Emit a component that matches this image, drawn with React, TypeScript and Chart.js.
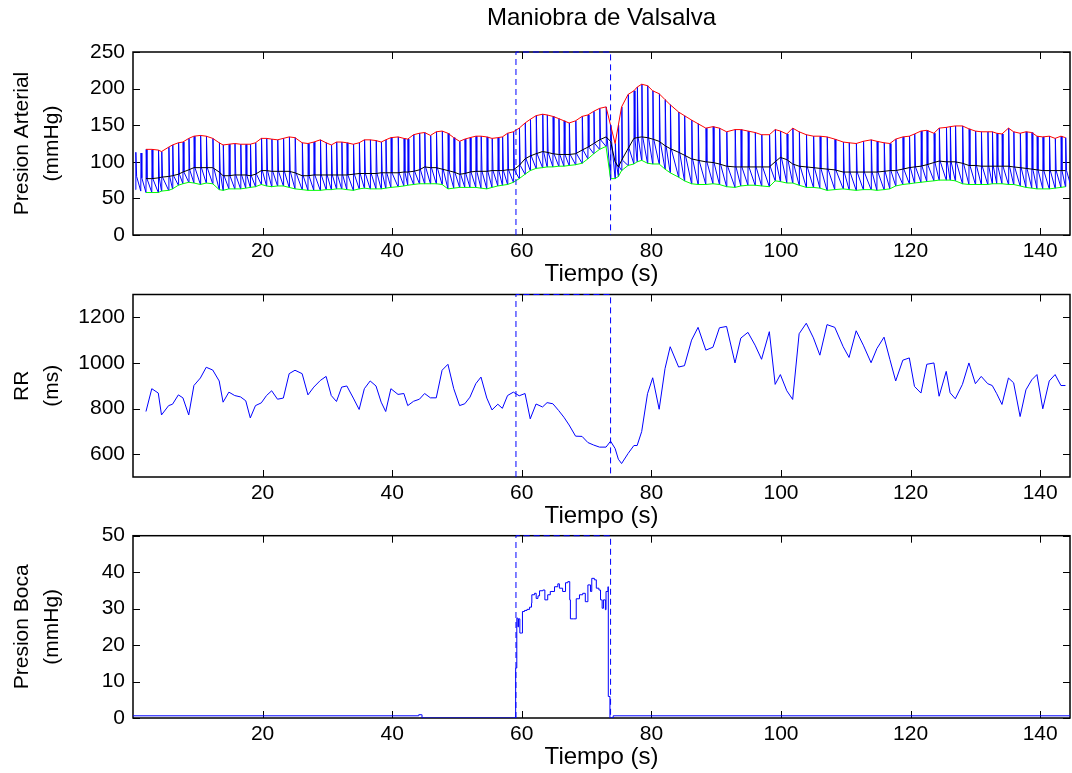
import React, { useEffect, useRef } from "react";
import { Chart, registerables } from "chart.js";

Chart.register(...registerables);

const FONT = "'Liberation Sans', Arial, Helvetica, sans-serif";

// ---------- axis / tick data ----------
const timeMin = 0;
const timeMax = 144.6;
const timeTicks = [20, 40, 60, 80, 100, 120, 140];
const bpTicks = [0, 50, 100, 150, 200, 250];
const rrTicks = [600, 800, 1000, 1200];
const mouthTicks = [0, 10, 20, 30, 40, 50];
const maneuverStart = 59.1;
const maneuverEnd = 73.7;

// ---------- beat-to-beat data (s) ----------
const beatTimes = [0.4, 1.2,
  2.0, 2.9, 3.9, 4.4, 5.5, 6.1, 7.0, 7.7, 8.6, 9.4,
  10.4, 11.3, 12.3, 13.3, 13.9, 14.8, 15.7, 16.6, 17.4, 18.1,
  18.9, 19.8, 20.6, 21.4, 22.3, 23.2, 24.1, 25.0, 26.1, 27.0,
  27.9, 28.9, 29.8, 30.6, 31.4, 32.2, 33.0, 34.0, 34.9, 35.7,
  36.6, 37.5, 38.3, 39.0, 39.8, 40.9, 41.8, 42.4, 43.3, 44.2,
  45.0, 45.9, 46.8, 47.7, 48.6, 49.5, 50.4, 51.2, 52.0, 52.9,
  53.7, 54.6, 55.4, 56.3, 57.0, 57.8, 58.7, 59.6, 60.5, 61.3,
  62.2, 63.2, 63.9, 64.8, 65.7, 66.5, 67.3, 68.3, 69.3, 70.2,
  71.1, 72.0, 73.0, 73.7, 74.4, 74.9, 75.4, 76.4, 77.3, 77.8,
  78.5, 79.4, 80.2, 81.2, 82.1, 82.9, 84.2, 85.1, 86.2, 87.2,
  88.4, 89.5, 90.5, 91.6, 92.9, 93.8, 94.9, 96.0, 97.0, 98.2,
  99.1, 99.9, 100.9, 101.8, 102.8, 103.9, 105.0, 106.0, 107.1, 108.3,
  109.6, 110.5, 111.6, 112.7, 113.9, 114.8, 115.9, 116.8, 117.7, 118.8,
  119.8, 120.6, 121.6, 122.5, 123.6, 124.4, 125.5, 126.1, 126.9, 128.0,
  129.0, 130.0, 130.9, 131.9, 132.6, 133.3, 134.1, 135.1, 135.9, 136.9,
  137.8, 138.7, 139.5, 140.4, 141.4, 142.3, 143.2, 143.9,
  144.8];

// systolic pressure per beat (mmHg)
const systolic = [113, 112,
  117, 117, 116, 114, 120, 123, 126, 127, 132, 135,
  136, 135, 132, 126, 123, 124, 125, 124, 124, 124,
  126, 132, 132, 131, 130, 132, 134, 133, 126, 125,
  127, 130, 126, 123, 127, 127, 126, 124, 126, 130,
  130, 129, 127, 130, 133, 134, 132, 131, 137, 139,
  140, 136, 141, 142, 139, 133, 128, 131, 133, 135,
  135, 134, 132, 133, 134, 139, 141, 146, 153, 158,
  163, 165, 164, 162, 159, 156, 153, 156, 162, 164,
  169, 173, 175, 150, 125, 150, 175, 192, 197, 202,
  206, 204, 197, 193, 185, 178, 168, 163, 157, 152,
  146, 148, 146, 141, 144, 144, 142, 140, 137, 137,
  144, 142, 138, 146, 141, 137, 135, 135, 134, 131,
  127, 126, 125, 128, 130, 128, 126, 125, 131, 134,
  135, 138, 142, 143, 139, 146, 147, 148, 149, 149,
  145, 142, 141, 141, 141, 139, 138, 146, 141, 139,
  141, 140, 135, 134, 135, 132, 135, 133,
  134];

// diastolic pressure per beat (mmHg)
const diastolic = [62, 60,
  58, 58, 58, 60, 61, 63, 68, 70, 72, 71,
  69, 71, 70, 62, 61, 63, 63, 63, 64, 65,
  66, 69, 67, 66, 67, 67, 65, 63, 62, 61,
  61, 61, 62, 62, 63, 63, 62, 61, 63, 64,
  63, 63, 63, 64, 65, 66, 67, 68, 69, 70,
  70, 70, 70, 69, 63, 64, 65, 65, 65, 65,
  64, 63, 65, 67, 68, 69, 72, 77, 83, 88,
  91, 92, 93, 93, 94, 94, 95, 96, 98, 104,
  111, 117, 121, 77, 77, 80, 88, 95, 97, 100,
  102, 98, 97, 97, 90, 85, 79, 74, 70, 69,
  69, 70, 69, 66, 65, 67, 68, 68, 67, 66,
  74, 73, 71, 71, 68, 65, 65, 64, 61, 62,
  63, 62, 61, 62, 62, 61, 62, 63, 67, 69,
  70, 71, 72, 73, 74, 75, 75, 75, 74, 70,
  69, 69, 69, 69, 70, 70, 70, 69, 69, 67,
  65, 64, 63, 63, 63, 64, 65, 66,
  65];

// mean pressure per beat (mmHg)
const meanPressure = [80, 78,
  77, 77, 78, 79, 80, 81, 83, 86, 89, 92,
  92, 92, 92, 86, 81, 81, 82, 82, 82, 81,
  83, 88, 88, 87, 87, 87, 87, 85, 81, 81,
  82, 82, 82, 82, 82, 82, 82, 83, 84, 84,
  84, 84, 85, 85, 85, 85, 86, 86, 87, 89,
  93, 92, 92, 90, 88, 86, 83, 84, 86, 87,
  87, 87, 88, 88, 88, 89, 89, 95, 104, 108,
  111, 114, 113, 111, 110, 110, 110, 111, 116, 120,
  125, 130, 134, 128, 100, 93, 102, 118, 132, 133,
  134, 133, 131, 128, 122, 118, 113, 109, 104, 102,
  100, 99, 97, 94, 93, 93, 93, 93, 93, 93,
  100, 106, 103, 97, 94, 93, 92, 91, 90, 89,
  86, 86, 86, 86, 86, 86, 87, 88, 88, 90,
  92, 93, 94, 96, 99, 101, 100, 100, 100, 98,
  95, 95, 94, 94, 94, 94, 94, 94, 93, 92,
  91, 90, 89, 88, 88, 88, 88, 88,
  88];

// RR interval per beat (ms), for beats beatTimes[2] .. beatTimes[159]
const rrIntervals = [
  787, 887, 868, 772, 813, 819, 860, 847, 772, 901,
  934, 981, 969, 921, 828, 872, 857, 851, 834, 759,
  813, 825, 857, 878, 841, 846, 953, 968, 953, 860,
  894, 923, 941, 857, 831, 894, 899, 846, 796, 887,
  921, 899, 828, 787, 887, 862, 866, 813, 832, 841,
  866, 847, 847, 968, 994, 887, 813, 821, 850, 909,
  938, 846, 794, 819, 801, 857, 872, 856, 866, 755,
  820, 807, 826, 821, 791, 762, 728, 679, 678, 651,
  640, 631, 631, 657, 625, 578, 559, 603, 638, 638,
  699, 865, 935, 797, 975, 1071, 982, 988, 1100, 1156,
  1056, 1069, 1154, 1160, 1000, 1109, 1134, 1078, 1016, 1137,
  906, 949, 878, 840, 1128, 1174, 1110, 1034, 1168, 1156,
  1071, 1024, 1141, 1078, 1001, 1063, 1113, 1016, 921, 1012,
  1022, 897, 868, 994, 1000, 854, 963, 869, 843, 906,
  1000, 909, 941, 909, 901, 865, 818, 934, 913, 765,
  882, 926, 949, 799, 921, 949, 901, 901];

// mouth pressure (mmHg), sample-and-hold
const mouthTimes = [0, 44.0, 44.1, 44.5, 44.6, 59.03, 59.05, 59.2, 59.23, 59.4,
  59.5, 59.7, 60.0, 60.1, 60.42, 60.8, 61.2, 61.5, 61.55, 61.96,
  62.22, 62.5, 62.74, 63.25, 63.56, 64.0, 64.4, 65.05, 65.56, 65.8,
  66.3, 66.75, 67.1, 67.4, 67.5, 68.0, 68.4, 68.9, 69.4, 69.8,
  70.2, 70.6, 70.8, 71.2, 71.5, 71.9, 72.15, 72.4, 72.6, 72.9,
  73.0, 73.3, 73.35, 73.45, 73.6, 74.05, 74.1, 144.6];
const mouthValues = [0.6, 0.6, 0.9, 0.9, 0, 0, 13.7, 13.7, 27.4, 25,
  27.2, 23.3, 23.3, 29.2, 29.5, 29.8, 30.4, 31.5, 33.8, 34.2,
  32.8, 33.5, 34.9, 35.1, 32.4, 33.8, 34.7, 36.0, 36.8, 35.6,
  34.7, 37.1, 37.4, 32.4, 27.2, 27.2, 32.7, 33.8, 34.2, 31.9,
  36.5, 34.7, 38.3, 37.9, 35.6, 35.1, 32.4, 30.1, 32.4, 29.7,
  34.7, 36.0, 5.9, 5.9, 0, 0, 0.6, 0.6];

// waveform shape (s after each beat onset)
const upstroke = 0.04;
const knee = 0.12;

// ---------- helpers ----------
const BLUE = "#0000ff";
const envFirst = 2;
const envLast = beatTimes.length - 1; // exclusive

function series(xs: number[], ys: number[], from = 0, to = xs.length) {
  const out: { x: number; y: number }[] = [];
  for (let i = from; i < to && i < ys.length; i++) out.push({ x: xs[i], y: ys[i] });
  return out;
}

function pressureWave() {
  const out: { x: number; y: number }[] = [];
  for (let i = 0; i < beatTimes.length; i++) {
    out.push({ x: beatTimes[i], y: diastolic[i] });
    out.push({ x: beatTimes[i] + upstroke, y: systolic[i] });
    out.push({ x: beatTimes[i] + upstroke + knee, y: meanPressure[i] });
  }
  return out;
}

function maneuverBox(lo: number, hi: number) {
  return {
    data: [
      { x: maneuverStart, y: lo },
      { x: maneuverStart, y: hi },
      { x: maneuverEnd, y: hi },
      { x: maneuverEnd, y: lo },
    ],
    borderColor: BLUE,
    borderWidth: 1,
    borderDash: [6, 4],
    pointRadius: 0,
    clip: 4,
  };
}

const framePlugin = {
  id: "matlabFrame",
  beforeDatasetsDraw(chart: any) {
    const { ctx, chartArea } = chart;
    const { left, right, top, bottom } = chartArea;
    const xs = chart.scales.x;
    const ys = chart.scales.y;
    const L = 7;
    ctx.save();
    ctx.strokeStyle = "#000";
    ctx.lineWidth = 1;
    ctx.beginPath();
    for (const t of xs.ticks) {
      const px = Math.round(xs.getPixelForValue(t.value)) + 0.5;
      ctx.moveTo(px, bottom);
      ctx.lineTo(px, bottom - L);
      ctx.moveTo(px, top);
      ctx.lineTo(px, top + L);
    }
    for (const t of ys.ticks) {
      const py = Math.round(ys.getPixelForValue(t.value)) + 0.5;
      ctx.moveTo(left, py);
      ctx.lineTo(left + L, py);
      ctx.moveTo(right, py);
      ctx.lineTo(right - L, py);
    }
    ctx.stroke();
    ctx.lineWidth = 1.5;
    ctx.strokeRect(left, top, right - left, bottom - top);
    ctx.restore();
  },
};

function zeroPad(s: any) {
  s.paddingLeft = 0;
  s.paddingRight = 0;
  s.paddingTop = 0;
  s.paddingBottom = 0;
}

function buildOptions(p: {
  yMin: number;
  yMax: number;
  yTicks: number[];
  yTitle: string[];
  padTop: number;
  title?: string;
}) {
  return {
    animation: false,
    responsive: false,
    maintainAspectRatio: false,
    events: [],
    layout: { padding: { left: 0, right: 2, top: p.padTop, bottom: 0 } },
    plugins: {
      legend: { display: false },
      tooltip: { enabled: false },
      title: p.title
        ? {
            display: true,
            text: p.title,
            fullSize: false,
            color: "#000",
            font: { family: FONT, size: 24, weight: "normal", lineHeight: 1.2 },
            padding: { top: 4, bottom: 19.2 },
          }
        : { display: false },
    },
    elements: {
      point: { radius: 0, hoverRadius: 0 },
      line: { tension: 0, borderWidth: 1 },
    },
    scales: {
      x: {
        type: "linear",
        min: timeMin,
        max: timeMax,
        grid: { display: false, drawTicks: false },
        border: { display: false },
        afterBuildTicks: (s: any) => {
          s.ticks = timeTicks.map((v) => ({ value: v }));
        },
        ticks: {
          autoSkip: false,
          maxRotation: 0,
          padding: 3.4,
          color: "#000",
          font: { family: FONT, size: 21 },
          callback: (v: any) => String(v),
        },
        title: {
          display: true,
          text: "Tiempo (s)",
          color: "#000",
          font: { family: FONT, size: 24, lineHeight: 1.2 },
          padding: { top: 0, bottom: 0.8 },
        },
        afterFit: (s: any) => {
          s.height = 55;
          zeroPad(s);
        },
      },
      y: {
        type: "linear",
        min: p.yMin,
        max: p.yMax,
        grid: { display: false, drawTicks: false },
        border: { display: false },
        afterBuildTicks: (s: any) => {
          s.ticks = p.yTicks.map((v) => ({ value: v }));
        },
        ticks: {
          autoSkip: false,
          padding: 8,
          color: "#000",
          font: { family: FONT, size: 21 },
          callback: (v: any) => String(v),
        },
        title: {
          display: true,
          text: p.yTitle,
          color: "#000",
          font: { family: FONT, size: 21, lineHeight: 1.43 },
          padding: { top: 7, bottom: 0 },
        },
        afterFit: (s: any) => {
          s.width = 133;
          zeroPad(s);
        },
      },
    },
  };
}

function pressureConfig(): any {
  return {
    type: "line",
    data: {
      datasets: [
        maneuverBox(0, 250),
        { data: series(beatTimes, meanPressure, envFirst, envLast), borderColor: "#000000", borderWidth: 1 },
        { data: series(beatTimes, systolic, envFirst, envLast), borderColor: "#ff0000", borderWidth: 1 },
        { data: series(beatTimes, diastolic, envFirst, envLast), borderColor: "#00ff00", borderWidth: 1 },
        { data: pressureWave(), borderColor: BLUE, borderWidth: 1 },
      ],
    },
    options: buildOptions({
      yMin: 0,
      yMax: 250,
      yTicks: bpTicks,
      yTitle: ["Presion Arterial", "(mmHg)"],
      padTop: 0,
      title: "Maniobra de Valsalva",
    }),
    plugins: [framePlugin],
  };
}

function rrConfig(): any {
  return {
    type: "line",
    data: {
      datasets: [
        maneuverBox(500, 1300),
        { data: series(beatTimes.slice(envFirst), rrIntervals), borderColor: BLUE, borderWidth: 1 },
      ],
    },
    options: buildOptions({
      yMin: 500,
      yMax: 1300,
      yTicks: rrTicks,
      yTitle: ["RR", "(ms)"],
      padTop: 24.5,
    }),
    plugins: [framePlugin],
  };
}

function mouthConfig(): any {
  return {
    type: "line",
    data: {
      datasets: [
        maneuverBox(0, 50),
        { data: series(mouthTimes, mouthValues), borderColor: BLUE, borderWidth: 1, stepped: true },
      ],
    },
    options: buildOptions({
      yMin: 0,
      yMax: 50,
      yTicks: mouthTicks,
      yTitle: ["Presion Boca", "(mmHg)"],
      padTop: 24.7,
    }),
    plugins: [framePlugin],
  };
}

function Panel(props: { top: number; height: number; make: () => any }) {
  const ref = useRef<HTMLCanvasElement | null>(null);
  useEffect(() => {
    if (!ref.current) return;
    const chart = new Chart(ref.current, props.make());
    return () => chart.destroy();
  }, []);
  return (
    <canvas
      ref={ref}
      width={1072}
      height={props.height}
      style={{ position: "absolute", left: 0, top: props.top, width: 1072, height: props.height, display: "block" }}
    />
  );
}

export default function App() {
  return (
    <div
      style={{
        position: "absolute",
        left: 0,
        top: 0,
        width: 1072,
        height: 773,
        background: "#ffffff",
        overflow: "hidden",
      }}
    >
      <Panel top={0} height={290} make={pressureConfig} />
      <Panel top={270} height={262} make={rrConfig} />
      <Panel top={511} height={262} make={mouthConfig} />
    </div>
  );
}
